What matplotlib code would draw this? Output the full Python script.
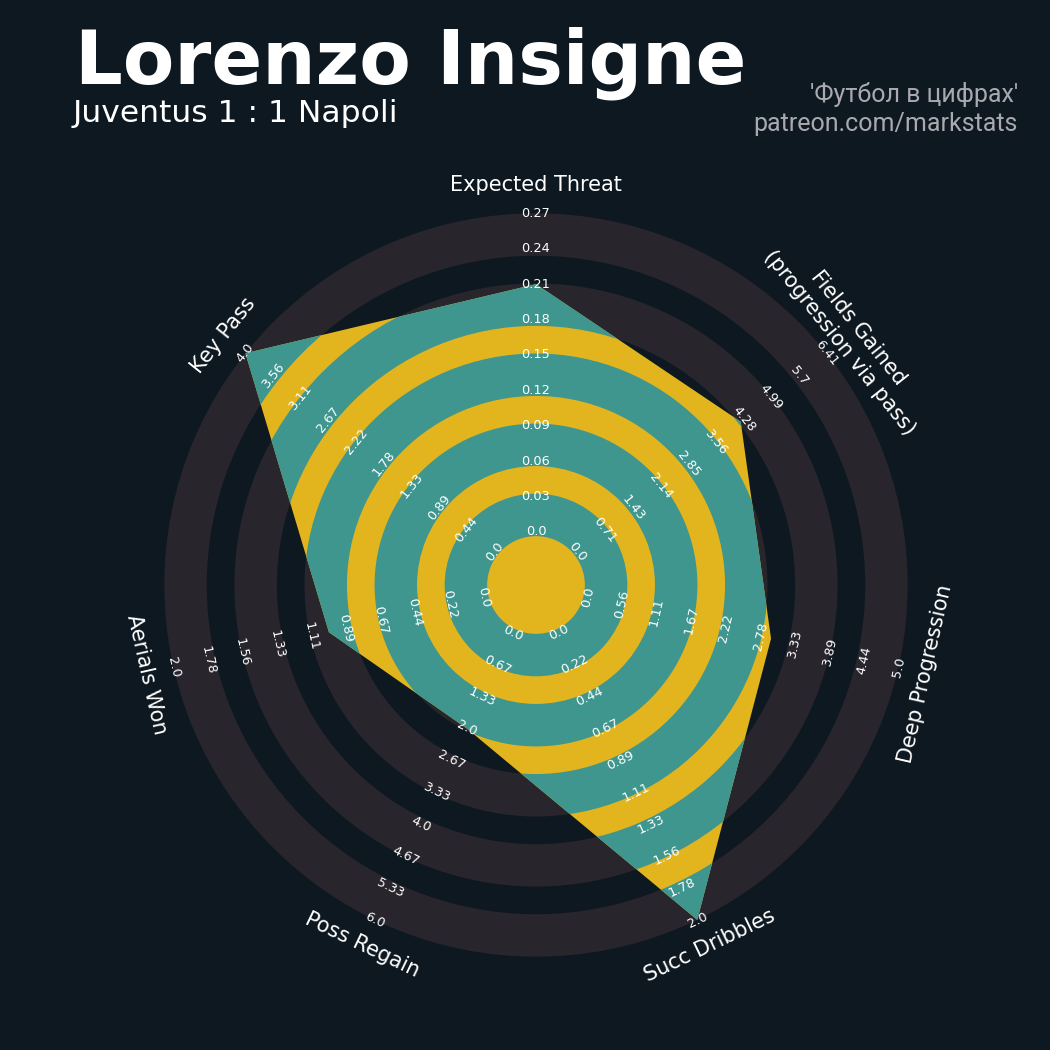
import numpy as np
import matplotlib.pyplot as plt
from matplotlib.patches import Wedge, Circle, Polygon

# chart data
params = ["Expected Threat", "Fields Gained\n(progression via pass)", "Deep Progression",
          "Succ Dribbles", "Poss Regain", "Aerials Won", "Key Pass"]
values = [0.21, 4.2, 2.95, 2.0, 2.0, 1.0, 4.0]

xt_ticks = ["0.0", "0.03", "0.06", "0.09", "0.12", "0.15", "0.18", "0.21", "0.24", "0.27"]
fg_ticks = ["0.0", "0.71", "1.43", "2.14", "2.85", "3.56", "4.28", "4.99", "5.7", "6.41"]
dp_ticks = ["0.0", "0.56", "1.11", "1.67", "2.22", "2.78", "3.33", "3.89", "4.44", "5.0"]
sd_ticks = ["0.0", "0.22", "0.44", "0.67", "0.89", "1.11", "1.33", "1.56", "1.78", "2.0"]
pr_ticks = ["0.0", "0.67", "1.33", "2.0", "2.67", "3.33", "4.0", "4.67", "5.33", "6.0"]
aw_ticks = ["0.0", "0.22", "0.44", "0.67", "0.89", "1.11", "1.33", "1.56", "1.78", "2.0"]
kp_ticks = ["0.0", "0.44", "0.89", "1.33", "1.78", "2.22", "2.67", "3.11", "3.56", "4.0"]
ticks = [xt_ticks, fg_ticks, dp_ticks, sd_ticks, pr_ticks, aw_ticks, kp_ticks]

title = "Lorenzo Insigne"
subtitle = "Juventus 1 : 1 Napoli"
credit = "'Футбол в цифрах'\npatreon.com/markstats"

BG = "#0e1820"
RING = "#28252c"
TEAL = "#3e968f"
YELLOW = "#e2b51e"

fig = plt.figure(figsize=(10.5, 10.5), dpi=100, facecolor=BG)
ax = fig.add_axes([0, 0, 1, 1])
ax.set_facecolor(BG)
u = 35.4  # pixels per radial step
ax.set_xlim(-536 / u, 514 / u)
ax.set_ylim(-465 / u, 585 / u)
ax.set_aspect("equal")
ax.axis("off")

n = len(params)
angles = np.deg2rad(90 - 360 / n * np.arange(n))

# rings
band_in = 1.38 + 1.98 * np.arange(5)
band_w = 1.2
for r0 in band_in:
    ax.add_patch(Wedge((0, 0), r0 + band_w, 0, 360, width=band_w, fc=RING, ec="none", zorder=1))

# radar polygon
radii = []
for v, t in zip(values, ticks):
    lo, hi = float(t[0]), float(t[-1])
    radii.append(1.5 + 9 * (v - lo) / (hi - lo))
radii = np.array(radii)
verts = np.column_stack([radii * np.cos(angles), radii * np.sin(angles)])
poly = Polygon(verts, closed=True, fc=YELLOW, ec="none", zorder=2)
ax.add_patch(poly)
for r0 in band_in:
    w = Wedge((0, 0), r0 + band_w, 0, 360, width=band_w, fc=TEAL, ec="none", zorder=3)
    ax.add_patch(w)
    w.set_clip_path(poly)

# labels
for i, a in enumerate(angles):
    deg = np.rad2deg(a)
    rot = deg - 90 if np.sin(a) > 1e-6 else deg + 90
    if abs(np.cos(a)) < 1e-6 and np.sin(a) > 0:
        rot = 0
    rp = 400 / u
    ax.text(rp * np.cos(a), rp * np.sin(a), params[i], color="white", fontsize=15,
            ha="center", va="center", rotation=rot, rotation_mode="anchor",
            multialignment="center", zorder=5)
    for k, lab in enumerate(ticks[i]):
        r = 1.5 + k
        ax.text(r * np.cos(a), r * np.sin(a), lab, color="white", fontsize=9.3,
                ha="center", va="center", rotation=rot, rotation_mode="anchor", zorder=5)

fig.text(75 / 1050, 1 - 83 / 1050, title, color="white", fontsize=54,
         fontweight="bold", ha="left", va="baseline")
fig.text(73 / 1050, 1 - 122 / 1050, subtitle, color="white", fontsize=22.6,
         ha="left", va="baseline")
fig.text(1018 / 1050, 1 - 131 / 1050, credit, color="#a9a9b0", fontsize=18,
         family=["Roboto", "DejaVu Sans"], ha="right", va="baseline",
         multialignment="right", linespacing=1.25)

fig.savefig("out.png", dpi=100, facecolor=BG)
